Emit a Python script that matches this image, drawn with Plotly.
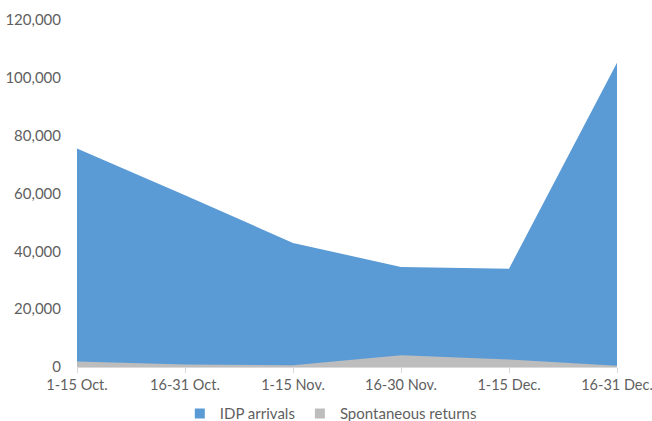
import plotly.graph_objects as go

periods = ["1-15 Oct.", "16-31 Oct.", "1-15 Nov.", "16-30 Nov.", "1-15 Dec.", "16-31 Dec."]
idp_arrivals = [75600, 59400, 42900, 34600, 34000, 105200]
spontaneous_returns = [1900, 900, 600, 4100, 2600, 400]

y_ticks = [0, 20000, 40000, 60000, 80000, 100000, 120000]

series = [
    ("IDP arrivals", idp_arrivals, "#5B9BD5"),
    ("Spontaneous returns", spontaneous_returns, "#BDBDBD"),
]

fig = go.Figure()
for name, vals, color in series:
    fig.add_trace(go.Scatter(
        x=periods, y=vals, name=name, showlegend=False,
        mode="none", fill="tozeroy", fillcolor=color, hoverinfo="skip",
    ))
# legend entries with square swatches
for name, vals, color in series:
    fig.add_trace(go.Scatter(
        x=[None], y=[None], name=name, mode="markers",
        marker=dict(symbol="square", size=10, color=color),
    ))

font_family = "Lato, 'Open Sans', sans-serif"
fig.update_layout(
    width=652, height=421,
    margin=dict(l=77, r=35, t=20, b=54),
    paper_bgcolor="white", plot_bgcolor="white",
    font=dict(family=font_family, size=15, color="#5F5F5F"),
    showlegend=True,
    legend=dict(orientation="h", x=0.47, xanchor="center",
                yref="container", y=0.017, yanchor="middle",
                font=dict(size=15, color="#5F5F5F"), itemwidth=30,
                traceorder="normal", tracegroupgap=0),
    xaxis=dict(
        type="category", range=[0, 5], showgrid=False, zeroline=False,
        showline=True, linecolor="#D9D9D9", linewidth=1,
        ticks="outside", ticklen=5, tickcolor="#D9D9D9",
        tickfont=dict(size=14.5, color="#5F5F5F"), automargin=False,
    ),
    yaxis=dict(
        range=[0, 120000], tickvals=y_ticks, tickformat=",d",
        showgrid=False, zeroline=False, showline=False, ticks="",
        ticklabelstandoff=15, automargin=False,
        tickfont=dict(size=15, color="#5F5F5F"),
    ),
)

fig.write_html(
    "out.html",
    config={"displayModeBar": False},
    post_script="document.body.style.margin='0';document.body.style.overflow='hidden';",
)
